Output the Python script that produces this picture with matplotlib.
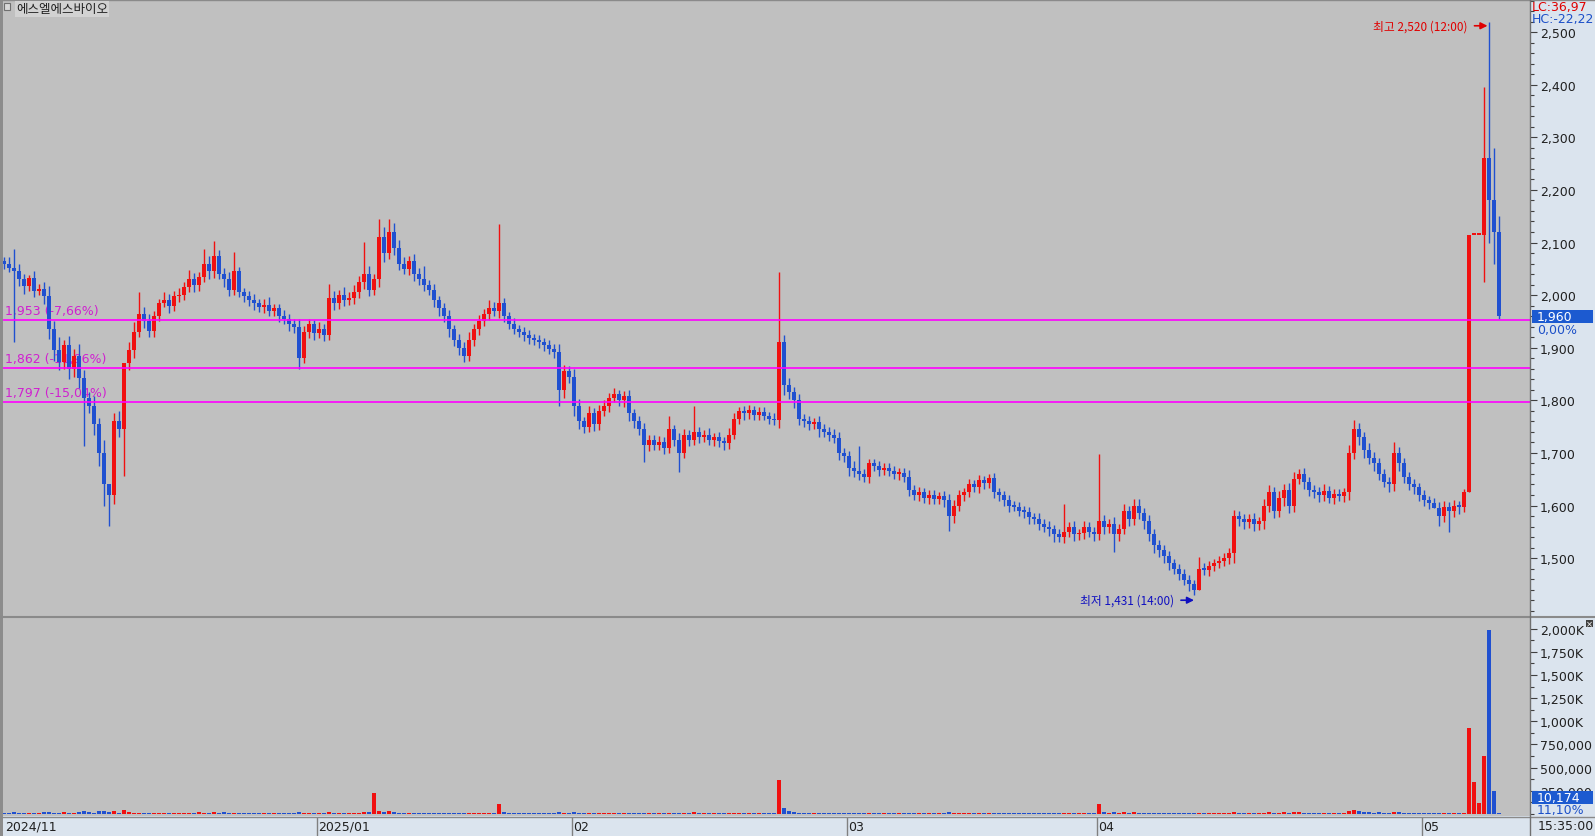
import matplotlib
matplotlib.use("Agg")
import matplotlib.pyplot as plt
import matplotlib.patches as mpatches
from matplotlib.lines import Line2D
from matplotlib.ticker import MultipleLocator, FixedLocator, FuncFormatter
from matplotlib.transforms import blended_transform_factory
import numpy as np

# ---- data (hourly-ish bars, close prices) ----
first_open = 2065
close = [
    2060, 2052, 2045, 2030, 2018, 2032, 2008, 2012, 1998, 1935,
    1895, 1872, 1905, 1860, 1885, 1842, 1805, 1790, 1755, 1700,
    1640, 1620, 1760, 1745, 1870, 1895, 1930, 1965, 1950, 1932,
    1960, 1985, 1990, 1980, 1998, 2000, 2015, 2030, 2020, 2035,
    2060, 2045, 2075, 2040, 2030, 2010, 2045, 2005, 1998, 1990,
    1985, 1978, 1982, 1970, 1975, 1960, 1955, 1945, 1940, 1880,
    1930, 1945, 1928, 1935, 1925, 1995, 1985, 2000, 1990, 1995,
    2005, 2025, 2040, 2010, 2030, 2110, 2080, 2120, 2090, 2060,
    2050, 2065, 2040, 2030, 2020, 2010, 1990, 1975, 1960, 1935,
    1915, 1900, 1885, 1915, 1935, 1950, 1965, 1975, 1970, 1985,
    1960, 1945, 1935, 1930, 1925, 1918, 1915, 1910, 1905, 1898,
    1892, 1820, 1855, 1845, 1790, 1760, 1750, 1775, 1755, 1780,
    1790, 1805, 1812, 1800, 1808, 1775, 1760, 1745, 1715, 1725,
    1715, 1720, 1710, 1745, 1725, 1700, 1735, 1725, 1740, 1730,
    1735, 1725, 1730, 1722, 1718, 1735, 1765, 1780, 1775, 1782,
    1772, 1778, 1770, 1765, 1762, 1910, 1830, 1815, 1800, 1765,
    1760, 1755, 1758, 1745, 1740, 1735, 1728, 1700, 1695, 1672,
    1665, 1660, 1655, 1680, 1675, 1668, 1672, 1665, 1660, 1662,
    1655, 1630, 1620, 1625, 1615, 1620, 1612, 1618, 1610, 1580,
    1600, 1620, 1625, 1640, 1635, 1648, 1642, 1652, 1625, 1620,
    1610, 1600, 1598, 1590, 1588, 1578, 1575, 1565, 1560, 1555,
    1545, 1540, 1550, 1560, 1545, 1548, 1560, 1550, 1545, 1570,
    1560, 1565, 1545, 1555, 1590, 1575, 1600, 1585, 1570, 1545,
    1525, 1515, 1505, 1490, 1480, 1470, 1458, 1450, 1440, 1480,
    1478, 1485, 1490, 1495, 1500, 1510, 1580, 1575, 1568, 1575,
    1565, 1570, 1600, 1625, 1590, 1615, 1630, 1600, 1650, 1660,
    1645, 1630, 1625, 1620, 1628, 1615, 1622, 1618, 1625, 1700,
    1745, 1730, 1705, 1690, 1680, 1660, 1645, 1640, 1700, 1680,
    1655, 1640, 1635, 1620, 1610, 1605, 1595, 1580, 1598, 1590,
    1600, 1598, 1625, 2115, 2115, 2115, 2260, 2180, 2120, 1960,
]

# ordinary wick length above / below each body
wick_up = [
    8, 12, 0, 15, 10, 6, 14, 9, 12, 20, 15, 25, 10, 18, 12, 22, 15, 10, 18, 12, 25, 0, 15, 20, 0, 15, 18, 10, 12, 14,
    10, 8, 15, 12, 9, 14, 10, 18, 12, 8, 0, 15, 0, 10, 12, 14, 0, 9, 8, 10, 12, 8, 10, 14, 9, 8, 12, 10, 9, 15,
    12, 10, 8, 14, 10, 0, 12, 9, 15, 10, 14, 12, 0, 15, 10, 0, 20, 0, 18, 15, 12, 10, 14, 12, 0, 9, 12, 8, 10, 12,
    9, 12, 10, 14, 10, 12, 9, 15, 12, 0, 10, 8, 12, 9, 10, 8, 9, 10, 8, 9, 10, 15, 12, 10, 14, 12, 9, 15, 10, 12,
    10, 9, 12, 8, 10, 12, 9, 10, 12, 10, 9, 12, 10, 0, 9, 12, 10, 8, 0, 10, 9, 12, 8, 10, 9, 12, 10, 8, 10, 9,
    8, 10, 9, 8, 10, 0, 15, 12, 10, 12, 9, 10, 8, 12, 10, 9, 10, 12, 10, 9, 12, 0, 10, 9, 8, 10, 9, 8, 10, 9,
    10, 12, 9, 10, 8, 10, 9, 8, 10, 12, 10, 9, 8, 10, 9, 10, 8, 0, 10, 9, 8, 10, 9, 8, 10, 9, 8, 10, 9, 10,
    8, 10, 0, 9, 10, 8, 10, 9, 10, 0, 12, 10, 14, 10, 12, 10, 12, 0, 10, 12, 10, 9, 10, 8, 9, 8, 10, 9, 8, 0,
    10, 9, 8, 10, 9, 10, 12, 10, 9, 8, 10, 9, 12, 14, 10, 12, 10, 12, 14, 10, 12, 10, 9, 10, 12, 10, 9, 10, 9, 15,
    0, 12, 10, 14, 12, 10, 9, 10, 0, 12, 10, 9, 10, 8, 10, 9, 10, 12, 10, 9, 10, 9, 0, 0, 0, 0, 0, 0, 0, 0,
]
wick_dn = [
    10, 8, 0, 12, 15, 10, 12, 8, 14, 18, 20, 15, 12, 20, 15, 18, 0, 15, 20, 25, 0, 0, 18, 15, 0, 12, 15, 10, 12, 0,
    12, 10, 8, 14, 10, 12, 9, 10, 14, 12, 10, 15, 12, 10, 14, 12, 10, 9, 12, 10, 14, 10, 12, 9, 10, 12, 10, 14, 12, 0,
    10, 12, 14, 10, 12, 10, 14, 12, 10, 9, 12, 10, 14, 12, 10, 15, 18, 12, 14, 12, 10, 12, 14, 10, 12, 10, 12, 14, 12, 15,
    12, 14, 0, 10, 12, 10, 9, 12, 10, 14, 12, 10, 9, 10, 12, 10, 9, 10, 12, 10, 12, 0, 15, 12, 20, 15, 12, 10, 14, 12,
    10, 12, 9, 10, 12, 14, 12, 10, 0, 12, 10, 9, 12, 10, 12, 0, 10, 12, 10, 12, 10, 9, 12, 10, 12, 10, 9, 10, 12, 10,
    9, 10, 8, 10, 9, 15, 20, 12, 14, 12, 10, 12, 9, 14, 10, 12, 10, 14, 12, 15, 10, 12, 10, 12, 10, 12, 10, 9, 10, 12,
    10, 12, 10, 12, 10, 12, 9, 10, 12, 0, 14, 10, 12, 9, 10, 12, 10, 9, 10, 12, 10, 12, 9, 10, 12, 14, 10, 12, 10, 12,
    14, 10, 12, 10, 12, 10, 12, 10, 12, 10, 14, 12, 0, 12, 10, 14, 12, 10, 14, 12, 15, 12, 14, 12, 10, 12, 10, 12, 10, 0,
    10, 12, 10, 9, 10, 12, 20, 14, 12, 10, 14, 12, 15, 12, 14, 12, 15, 14, 12, 10, 14, 12, 10, 14, 12, 10, 12, 10, 12, 14,
    12, 15, 14, 12, 14, 12, 10, 14, 12, 15, 12, 10, 14, 12, 10, 12, 0, 14, 12, 10, 12, 14, 10, 0, 0, 0, 0, 0, 0, 0,
]

# long wicks that stick out far beyond the bodies
hi_idx = [2, 27, 40, 42, 46, 65, 72, 75, 77, 84, 99, 133, 138, 155, 171,
          197, 212, 219, 227, 239, 246, 270, 278, 292, 296, 297, 298, 299]
hi_val = [2088, 2006, 2088, 2103, 2082, 2021, 2101, 2145, 2145, 2055, 2135, 1770, 1789, 2044, 1713,
          1660, 1603, 1698, 1612, 1502, 1590, 1762, 1720, 1631, 2396, 2520, 2280, 2150]
lo_idx = [2, 16, 20, 21, 24, 29, 59, 92, 111, 128, 135, 189, 222, 238, 287, 289, 296, 297, 298, 299]
lo_val = [1911, 1713, 1600, 1561, 1656, 1920, 1860, 1873, 1789, 1683, 1664, 1551, 1511, 1431, 1561, 1550,
          2025, 2100, 2060, 1955]

# volume in thousands of shares
volume_k = [
    12, 8, 25, 10, 6, 9, 14, 7, 18, 22, 15, 11, 20, 9, 13, 24, 30, 16, 12, 28, 35, 26, 30, 14, 40, 18, 12, 10, 8, 11,
    9, 14, 7, 12, 10, 8, 15, 11, 9, 20, 13, 8, 18, 12, 16, 7, 14, 9, 6, 10, 13, 8, 12, 7, 9, 11, 6, 10, 8, 22,
    9, 7, 8, 6, 10, 18, 12, 9, 8, 11, 10, 14, 16, 20, 230, 35, 25, 30, 18, 14, 12, 10, 9, 13, 8, 11, 7, 10, 6, 9,
    8, 7, 12, 9, 6, 10, 8, 11, 14, 105, 20, 12, 9, 8, 7, 10, 6, 9, 8, 7, 10, 25, 14, 9, 18, 12, 10, 8, 11, 9,
    7, 10, 8, 6, 9, 12, 8, 7, 15, 9, 10, 8, 6, 12, 9, 14, 8, 10, 18, 9, 7, 6, 8, 10, 7, 9, 12, 10, 8, 9,
    7, 8, 9, 6, 10, 370, 60, 30, 22, 15, 12, 10, 9, 8, 11, 7, 9, 12, 8, 10, 7, 14, 9, 8, 10, 7, 6, 9, 8, 7,
    6, 12, 8, 9, 7, 10, 8, 6, 9, 18, 10, 8, 12, 9, 11, 7, 10, 14, 9, 8, 7, 10, 6, 9, 8, 7, 10, 9, 8, 6,
    7, 9, 15, 8, 6, 9, 7, 8, 10, 110, 25, 14, 18, 12, 20, 10, 16, 13, 9, 12, 10, 8, 11, 9, 10, 12, 8, 11, 9, 14,
    8, 7, 9, 6, 10, 8, 22, 10, 8, 12, 7, 9, 14, 20, 12, 15, 18, 10, 22, 25, 14, 10, 9, 12, 8, 10, 7, 9, 11, 30,
    40, 28, 22, 18, 14, 20, 12, 10, 26, 16, 12, 9, 10, 8, 11, 9, 12, 10, 14, 9, 11, 8, 15, 930, 340, 120, 620, 1980, 250, 10.174,
]

month_idx = [0, 63, 114, 169, 219, 284]
month_labels = ["2024/11", "2025/01", "02", "03", "04", "05"]

levels = [1953, 1862, 1797]
level_labels = ["1,953 (-7,66%)", "1,862 (-11,96%)", "1,797 (-15,04%)"]

RED = "#f01010"
BLUE = "#2050d0"
GRID_BG = "#c0c0c0"
PANEL_BG = "#dbe4ee"
NUM_FONT = ["Liberation Sans Narrow", "DejaVu Sans"]
KR_FONT = ["Noto Sans CJK KR", "DejaVu Sans"]

W, H = 1595, 837
fig = plt.figure(figsize=(W / 100, H / 100), dpi=100, facecolor=PANEL_BG)


def box(l, t, r, b):
    return [l / W, 1 - b / H, (r - l) / W, (b - t) / H]


def fx(px):
    return px / W


def fy(py):
    return 1 - py / H


axp = fig.add_axes(box(3, 1, 1530, 617), facecolor=GRID_BG)
axv = fig.add_axes(box(3, 619, 1530, 817), facecolor=GRID_BG)
axd = fig.add_axes(box(3, 818, 1530, 837), facecolor=PANEL_BG)

n = len(close)
x = np.arange(n)
c = np.array(close, float)
o = np.r_[first_open, c[:-1]]
body_lo = np.minimum(o, c)
body_hi = np.maximum(o, c)
hi = body_hi + np.array(wick_up)
lo = body_lo - np.array(wick_dn)
for i, v in zip(hi_idx, hi_val):
    hi[i] = max(hi[i], v)
for i, v in zip(lo_idx, lo_val):
    lo[i] = min(lo[i], v)
up = c >= o
col = np.where(up, RED, BLUE)

# price candles
axp.vlines(x, lo, hi, colors=col, lw=1.0, zorder=2)
axp.bar(x, np.maximum(body_hi - body_lo, 3), bottom=body_lo, width=0.9,
        color=col, linewidth=0, zorder=2)

for lv, lb in zip(levels, level_labels):
    axp.axhline(lv, color="#ff00ff", lw=1.2, zorder=3)
    axp.annotate(lb, xy=(0, lv), xycoords=blended_transform_factory(axp.transAxes, axp.transData),
                 xytext=(2, 3), textcoords="offset pixels", ha="left", va="bottom",
                 color="#d020d0", fontsize=9, family=NUM_FONT, zorder=1)

# high / low markers
i_hi = int(np.argmax(hi))
i_lo = int(np.argmin(lo))
axp.annotate("최고 2,520 (12:00)", xy=(i_hi - 0.3, hi[i_hi] - 8), xytext=(-20, 0),
             textcoords="offset pixels", ha="right", va="center", color="#e00000",
             fontsize=8.5, family=KR_FONT,
             arrowprops=dict(arrowstyle="-|>", color="#e00000", lw=1.2, shrinkA=3, shrinkB=0,
                             mutation_scale=10))
axp.annotate("최저 1,431 (14:00)", xy=(i_lo, lo[i_lo] - 10), xytext=(-20, 0),
             textcoords="offset pixels", ha="right", va="center", color="#1010c0",
             fontsize=8.5, family=KR_FONT,
             arrowprops=dict(arrowstyle="-|>", color="#1010c0", lw=1.2, shrinkA=3, shrinkB=0,
                             mutation_scale=10))

axp.set_xlim(-0.2, 305.2)
axp.set_ylim(1390, 2561)
axp.set_xticks([])
axp.yaxis.tick_right()
axp.yaxis.set_major_locator(FixedLocator(np.arange(1500, 2501, 100)))
axp.yaxis.set_minor_locator(MultipleLocator(20))
axp.yaxis.set_major_formatter(FuncFormatter(lambda v, p: f"{int(v):,}"))

# volume
axv.bar(x, volume_k, width=0.85, color=col, linewidth=0)
axv.set_xlim(-0.2, 305.2)
axv.set_ylim(-22, 2114)
axv.set_xticks([])
axv.yaxis.tick_right()
axv.yaxis.set_major_locator(FixedLocator(np.arange(250, 2001, 250)))
axv.yaxis.set_minor_locator(MultipleLocator(125))
axv.yaxis.set_major_formatter(
    FuncFormatter(lambda v, p: f"{int(v):,}K" if v >= 1000 else f"{int(v * 1000):,}"))

for ax in (axp, axv):
    for s in ax.spines.values():
        s.set_visible(False)
    ax.tick_params(axis="y", which="major", length=5, width=0.8, color="#404040", pad=2,
                   labelsize=9, labelcolor="#202020", labelfontfamily=NUM_FONT[0])
    ax.tick_params(axis="y", which="minor", length=3, width=0.8, color="#404040")

# date bar
axd.set_xlim(-0.2, 305.2)
axd.set_ylim(0, 1)
axd.set_xticks([])
axd.set_yticks([])
for s in axd.spines.values():
    s.set_visible(False)
for mi, ml in zip(month_idx, month_labels):
    if mi > 0:
        axd.axvline(mi - 0.5, color="#808080", lw=1)
    axd.annotate(ml, xy=(max(mi - 0.5, -0.2), 0.5), xytext=(2, 0), textcoords="offset pixels",
                 ha="left", va="center", fontsize=9, color="#202020", family=NUM_FONT)

# frame lines
fig.add_artist(mpatches.Rectangle((0, 0), fx(3), 1, transform=fig.transFigure,
                                  facecolor="#8c8c8c", edgecolor="none"))
fig.add_artist(Line2D([0, 1], [fy(0.5), fy(0.5)], color="#8a8a8a", lw=1))
fig.add_artist(Line2D([0, 1], [fy(617.5), fy(617.5)], color="#8a8a8a", lw=1.5))
fig.add_artist(Line2D([0, 1], [fy(817.5), fy(817.5)], color="#8a8a8a", lw=1))
fig.add_artist(Line2D([fx(1530), fx(1530)], [0, 1], color="#707070", lw=1))

# title
fig.add_artist(mpatches.Rectangle((fx(4), fy(11)), fx(6), 7 / H, transform=fig.transFigure,
                                  facecolor="#d8d8d8", edgecolor="#707070", lw=0.8))
fig.text(fx(16), fy(10), "에스엘에스바이오", ha="left", va="center", fontsize=9,
         color="#202020", family=KR_FONT,
         bbox=dict(facecolor="#d2d2d2", edgecolor="none", pad=1))

# right panel labels
fig.text(fx(1532), fy(7), "LC:36,97", ha="left", va="center", fontsize=9, color="#e00000", family=NUM_FONT)
fig.text(fx(1532), fy(19), "HC:-22,22", ha="left", va="center", fontsize=9, color="#1c50c8", family=NUM_FONT)

last_y = axp.transData.transform((0, close[-1]))[1] / H
fig.add_artist(mpatches.Rectangle((fx(1532), last_y - 6.5 / H), fx(61), 13 / H,
                                  transform=fig.transFigure, facecolor="#1c5ad0", edgecolor="none"))
fig.text(fx(1537), last_y, f"{close[-1]:,}", ha="left", va="center", fontsize=9,
         color="white", family=NUM_FONT)
fig.text(fx(1537), last_y - 13 / H, "0,00%", ha="left", va="center", fontsize=9,
         color="#1c50c8", family=NUM_FONT)

fig.add_artist(mpatches.Rectangle((fx(1532), fy(805)), fx(61), 13 / H,
                                  transform=fig.transFigure, facecolor="#1c5ad0", edgecolor="none"))
fig.text(fx(1537), fy(798.5), f"{round(volume_k[-1] * 1000):,}", ha="left", va="center",
         fontsize=9, color="white", family=NUM_FONT)
fig.text(fx(1537), fy(811), "11,10%", ha="left", va="center", fontsize=9,
         color="#1c50c8", family=NUM_FONT)
fig.text(fx(1538), fy(827), "15:35:00", ha="left", va="center", fontsize=9,
         color="#202020", family=NUM_FONT)

fig.add_artist(mpatches.Rectangle((fx(1586), fy(628)), fx(7), 7 / H, transform=fig.transFigure,
                                  facecolor="#404040", edgecolor="none"))
fig.text(fx(1589.5), fy(624.5), "×", ha="center", va="center", fontsize=6, color="white")

fig.savefig("out.png", dpi=100, facecolor=fig.get_facecolor())
